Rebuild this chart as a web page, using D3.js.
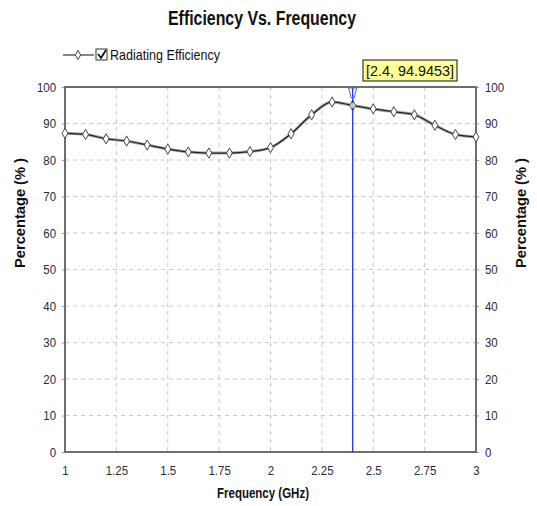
<!DOCTYPE html>
<html><head><meta charset="utf-8">
<script src="https://cdn.jsdelivr.net/npm/d3@7"></script>
<style>body{margin:0;background:#fff}svg{display:block}</style>
</head><body>
<script>
const freq = [1.0,1.1,1.2,1.3,1.4,1.5,1.6,1.7,1.8,1.9,2.0,2.1,2.2,2.3,2.4,2.5,2.6,2.7,2.8,2.9,3.0];
const efficiency = [87.3,87.0,85.8,85.2,84.1,83.0,82.2,81.9,81.9,82.3,83.4,87.2,92.4,95.9,94.9453,94.0,93.2,92.4,89.5,87.0,86.3];
const xTicks = [1,1.25,1.5,1.75,2,2.25,2.5,2.75,3];
const yTicks = [0,10,20,30,40,50,60,70,80,90,100];
const seriesName = "Radiating Efficiency";
const markerX = 2.4, markerY = 94.9453;

const W=537,H=506;
const font = "'Liberation Sans Narrow','Arial Narrow','Liberation Sans',Arial,sans-serif";
const svg = d3.select("body").append("svg").attr("width",W).attr("height",H);
const L=65,R=476,T=87,B=452;
const x = d3.scaleLinear().domain([1,3]).range([L,R]);
const y = d3.scaleLinear().domain([0,100]).range([B,T]);

// grid
const g = svg.append("g");
g.selectAll(".vg").data(xTicks.slice(1,-1)).join("line")
 .attr("x1",d=>x(d)).attr("x2",d=>x(d)).attr("y1",T).attr("y2",B)
 .attr("stroke","#c8c8c8").attr("stroke-dasharray","4,4");
g.selectAll(".hg").data(yTicks.slice(1,-1)).join("line")
 .attr("y1",d=>y(d)).attr("y2",d=>y(d)).attr("x1",L).attr("x2",R)
 .attr("stroke","#c8c8c8").attr("stroke-dasharray","4,4");

// axes
const axL = d3.axisLeft(y).tickValues(yTicks).tickSize(3).tickPadding(6);
const axR = d3.axisRight(y).tickValues(yTicks).tickSize(3).tickPadding(6);
const axB = d3.axisBottom(x).tickValues(xTicks).tickSize(0).tickPadding(14).tickFormat(d3.format("~g"));
function style(sel){
  sel.select(".domain").remove();
  sel.selectAll("line").attr("stroke","#999");
  sel.selectAll("text").attr("font-family",font).attr("font-size",13).attr("fill","#2a2a3a")
    .attr("transform","scale(0.9,1)").each(function(){
      const t=d3.select(this); const p=this.parentNode.getAttribute("transform");
    });
}
function condense(sel){
  // narrow the tick labels around their anchor
  sel.selectAll(".tick text").each(function(){
    const t=d3.select(this);
    const xx=+t.attr("x")||0;
    t.attr("transform",`translate(${xx},0) scale(0.88,1) translate(${-xx},0)`);
  });
}
svg.append("g").attr("transform",`translate(${L},0)`).call(axL).call(style).call(condense);
svg.append("g").attr("transform",`translate(${R},0)`).call(axR).call(style).call(condense);
svg.append("g").attr("transform",`translate(0,${B})`).call(axB).call(style).call(condense);

// frame
svg.append("rect").attr("x",L).attr("y",T).attr("width",R-L).attr("height",B-T)
 .attr("fill","none").attr("stroke","#6e6e6e").attr("stroke-width",2);

// line
const data = freq.map((f,i)=>({f,v:efficiency[i]}));
const line = d3.line().x(d=>x(d.f)).y(d=>y(d.v)).curve(d3.curveMonotoneX);
svg.append("path").datum(data).attr("d",line).attr("fill","none").attr("stroke","#aaa").attr("stroke-width",3);
svg.append("path").datum(data).attr("d",line).attr("fill","none").attr("stroke","#222").attr("stroke-width",1.2);
svg.selectAll(".pt").data(data).join("path")
 .attr("d",d3.symbol(d3.symbolDiamond,30)())
 .attr("transform",d=>`translate(${x(d.f)},${y(d.v)})`)
 .attr("fill","#fff").attr("stroke","#444").attr("stroke-width",1);

// marker line
svg.append("line").attr("x1",x(markerX)).attr("x2",x(markerX)).attr("y1",T).attr("y2",B)
 .attr("stroke","#2233ee").attr("stroke-width",1.3);
svg.append("path").attr("d",`M${x(markerX)-4},${T+1} L${x(markerX)+4},${T+1} L${x(markerX)+1.5},${T+11} L${x(markerX)-1.5},${T+11} Z`)
 .attr("fill","none").attr("stroke","#5566ff").attr("stroke-width",1);
svg.append("circle").attr("cx",x(markerX)).attr("cy",y(markerY)).attr("r",2.5).attr("fill","#cc9");

// tooltip
const tb = svg.append("g");
tb.append("rect").attr("x",363).attr("y",60).attr("width",94).attr("height",21)
 .attr("fill","#ffff99").attr("stroke","#111").attr("stroke-width",1);
tb.append("text").attr("x",366).attr("y",76)
 .attr("font-family",font).attr("font-size",15).attr("fill","#111")
 .attr("textLength",88).attr("lengthAdjust","spacingAndGlyphs")
 .text(`[${markerX}, ${markerY}]`);

// title
svg.append("text").attr("x",168).attr("y",25)
 .attr("font-family",font).attr("font-weight","bold").attr("font-size",20).attr("fill","#111")
 .attr("textLength",188).attr("lengthAdjust","spacingAndGlyphs")
 .text("Efficiency Vs. Frequency");

// legend
const lg = svg.append("g");
lg.append("line").attr("x1",63).attr("x2",94).attr("y1",55).attr("y2",55).attr("stroke","#333").attr("stroke-width",1.2);
lg.append("path").attr("d",d3.symbol(d3.symbolDiamond,24)()).attr("transform","translate(78,55)")
 .attr("fill","#fff").attr("stroke","#444");
lg.append("rect").attr("x",96).attr("y",49).attr("width",11).attr("height",11).attr("fill","#fff").attr("stroke","#333");
lg.append("path").attr("d","M98,54 L101,58 L106,50").attr("fill","none").attr("stroke","#111").attr("stroke-width",1.8);
lg.append("text").attr("x",110).attr("y",60).attr("font-family",font).attr("font-size",15).attr("fill","#111")
 .attr("textLength",110).attr("lengthAdjust","spacingAndGlyphs").text(seriesName);

// axis titles
function vlabel(cx){
  svg.append("text").attr("transform",`translate(${cx},268) rotate(-90)`)
   .attr("font-family",font).attr("font-weight","bold").attr("font-size",15).attr("fill","#111")
   .attr("textLength",110).attr("lengthAdjust","spacingAndGlyphs").text("Percentage (% )");
}
vlabel(25); vlabel(526);
svg.append("text").attr("x",217).attr("y",498)
 .attr("font-family",font).attr("font-weight","bold").attr("font-size",15).attr("fill","#111")
 .attr("textLength",92).attr("lengthAdjust","spacingAndGlyphs").text("Frequency (GHz)");
</script>
</body></html>
